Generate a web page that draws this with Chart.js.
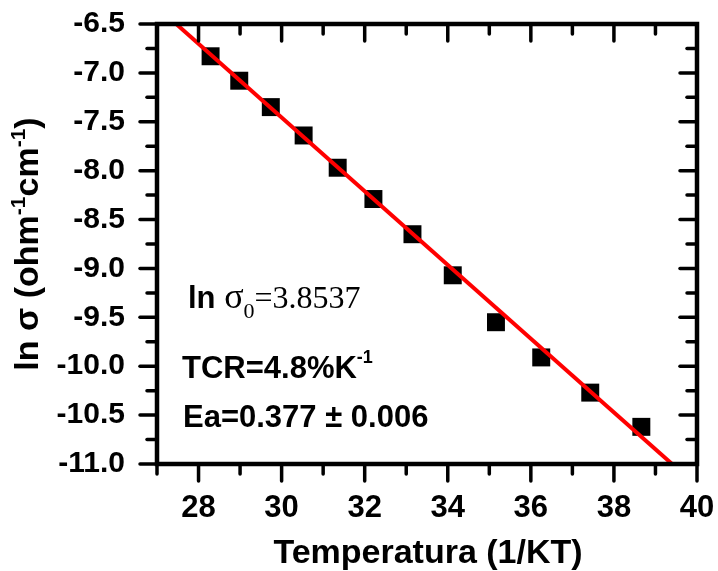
<!DOCTYPE html>
<html>
<head>
<meta charset="utf-8">
<script src="https://cdn.jsdelivr.net/npm/chart.js@4/dist/chart.umd.min.js"></script>
<style>
  html, body { margin: 0; padding: 0; background: #ffffff; }
  #c { display: block; }
</style>
</head>
<body>
<canvas id="c" width="718" height="571"></canvas>
<script>
// Measured conductivity: inverse thermal energy vs ln(sigma)
const tempValues    = [28.29, 28.98, 29.74, 30.53, 31.35, 32.21, 33.15, 34.12, 35.16, 36.25, 37.43, 38.66];
const lnSigmaValues = [-6.83, -7.08, -7.35, -7.64, -7.97, -8.29, -8.65, -9.07, -9.55, -9.91, -10.27, -10.62];

// Linear fit parameters (also printed on the plot)
const lnSigma0 = 3.8537;
const activationEnergy = 0.377;
const fitRange = [27, 40];

// Axis ticks
const xTickValues  = [28, 30, 32, 34, 36, 38, 40];
const xMinorValues = [27, 29, 31, 33, 35, 37, 39];
const yTickValues  = [-6.5, -7.0, -7.5, -8.0, -8.5, -9.0, -9.5, -10.0, -10.5, -11.0];
const yMinorValues = [-6.75, -7.25, -7.75, -8.25, -8.75, -9.25, -9.75, -10.25, -10.75];

const SANS = "'Liberation Sans', Arial, sans-serif";
const SERIF = "'Liberation Serif', 'Times New Roman', serif";

const pointData = tempValues.map((x, i) => ({ x, y: lnSigmaValues[i] }));
const fitData = fitRange.map(x => ({ x, y: lnSigma0 - activationEnergy * x }));

// draw a run of text pieces with their own fonts and baseline shifts
function drawRuns(ctx, runs, x, y) {
  let cx = x;
  for (const r of runs) {
    ctx.font = r.font;
    ctx.fillText(r.text, cx, y + (r.dy || 0));
    cx += ctx.measureText(r.text).width + (r.after || 0);
  }
  return cx;
}
function runsWidth(ctx, runs) {
  let w = 0;
  for (const r of runs) { ctx.font = r.font; w += ctx.measureText(r.text).width + (r.after || 0); }
  return w;
}

// keep the plot area at a fixed place: no extra room for overhanging labels
function zeroPadding(s) {
  s.paddingTop = 0; s.paddingBottom = 0; s.paddingLeft = 0; s.paddingRight = 0;
}

const framePlugin = {
  id: 'frameAndText',
  afterDraw(chart) {
    const ctx = chart.ctx;
    const xs = chart.scales.x, ys = chart.scales.y;
    const { left, right, top, bottom } = chart.chartArea;
    const MAJOR = 17, MINOR = 10;

    ctx.save();
    ctx.strokeStyle = '#000';
    ctx.lineCap = 'round';
    ctx.lineWidth = 3.5;
    const seg = (x1, y1, x2, y2) => { ctx.beginPath(); ctx.moveTo(x1, y1); ctx.lineTo(x2, y2); ctx.stroke(); };

    // x ticks: outward on bottom, inward on top
    const xTick = (v, len) => {
      const px = xs.getPixelForValue(v);
      seg(px, bottom, px, bottom + len);
      seg(px, top, px, top + len);
    };
    xTickValues.forEach(v => xTick(v, MAJOR));
    xMinorValues.forEach(v => xTick(v, MINOR));

    // y ticks: outward on left, inward on right
    const yTick = (v, len) => {
      const py = ys.getPixelForValue(v);
      seg(left, py, left - len, py);
      seg(right, py, right - len, py);
    };
    yTickValues.forEach(v => yTick(v, MAJOR));
    yMinorValues.forEach(v => yTick(v, MINOR));

    // frame
    ctx.lineCap = 'butt';
    ctx.lineJoin = 'miter';
    ctx.lineWidth = 4.5;
    ctx.strokeRect(left, top, right - left, bottom - top);

    ctx.fillStyle = '#000';
    ctx.textBaseline = 'alphabetic';
    ctx.textAlign = 'left';

    // x axis title
    ctx.font = `bold 34px ${SANS}`;
    ctx.textAlign = 'center';
    ctx.fillText('Temperatura (1/KT)', (left + right) / 2 + 1, 563);
    ctx.textAlign = 'left';

    // y axis title (rotated, with superscripts)
    const yTitle = [
      { text: 'ln σ (ohm', font: `bold 34px ${SANS}` },
      { text: '-1', font: `bold 21px ${SANS}`, dy: -13 },
      { text: 'cm', font: `bold 34px ${SANS}` },
      { text: '-1', font: `bold 21px ${SANS}`, dy: -13 },
      { text: ')', font: `bold 34px ${SANS}` }
    ];
    ctx.save();
    ctx.translate(38, (top + bottom) / 2);
    ctx.rotate(-Math.PI / 2);
    drawRuns(ctx, yTitle, -runsWidth(ctx, yTitle) / 2, 0);
    ctx.restore();

    // fit annotations
    drawRuns(ctx, [
      { text: 'ln ', font: `bold 31px ${SANS}` },
      { text: 'σ', font: `36px ${SERIF}` },
      { text: '0', font: `22px ${SERIF}`, dy: 10 },
      { text: '=' + lnSigma0.toFixed(4), font: `32px ${SERIF}` }
    ], 188, 308);

    drawRuns(ctx, [
      { text: 'TCR=4.8%K', font: `bold 31px ${SANS}` },
      { text: '-1', font: `bold 18px ${SANS}`, dy: -15 }
    ], 182, 378);

    drawRuns(ctx, [
      { text: 'Ea=' + activationEnergy.toFixed(3) + ' ± 0.006', font: `bold 31px ${SANS}` }
    ], 183, 427);

    ctx.restore();
  }
};

new Chart(document.getElementById('c'), {
  type: 'scatter',
  data: {
    datasets: [
      {
        type: 'line',
        data: fitData,
        borderColor: '#ff0000',
        borderWidth: 4,
        pointRadius: 0,
        fill: false,
        order: 0
      },
      {
        data: pointData,
        pointStyle: 'rect',
        pointRadius: 12.7,
        pointHoverRadius: 12.7,
        pointBackgroundColor: '#000000',
        pointBorderWidth: 0,
        order: 1
      }
    ]
  },
  options: {
    responsive: false,
    animation: false,
    devicePixelRatio: 1,
    layout: { padding: { top: 24, right: 21, left: 0, bottom: 0 } },
    plugins: { legend: { display: false }, tooltip: { enabled: false } },
    events: [],
    scales: {
      x: {
        type: 'linear',
        position: 'bottom',
        min: 27,
        max: 40,
        afterBuildTicks: s => { s.ticks = xTickValues.map(v => ({ value: v })); },
        afterFit: s => { s.height = 107; zeroPadding(s); },
        grid: { display: false },
        border: { display: false },
        ticks: {
          color: '#000',
          font: { family: SANS, size: 31, weight: 'bold' },
          padding: 18,
          maxRotation: 0,
          autoSkip: false
        }
      },
      y: {
        type: 'linear',
        position: 'left',
        min: -11,
        max: -6.5,
        afterBuildTicks: s => { s.ticks = yTickValues.map(v => ({ value: v })); },
        afterFit: s => { s.width = 157; zeroPadding(s); },
        grid: { display: false },
        border: { display: false },
        ticks: {
          color: '#000',
          font: { family: SANS, size: 30, weight: 'bold' },
          padding: 24,
          autoSkip: false,
          callback: v => Number(v).toFixed(1)
        }
      }
    }
  },
  plugins: [framePlugin]
});
</script>
</body>
</html>
